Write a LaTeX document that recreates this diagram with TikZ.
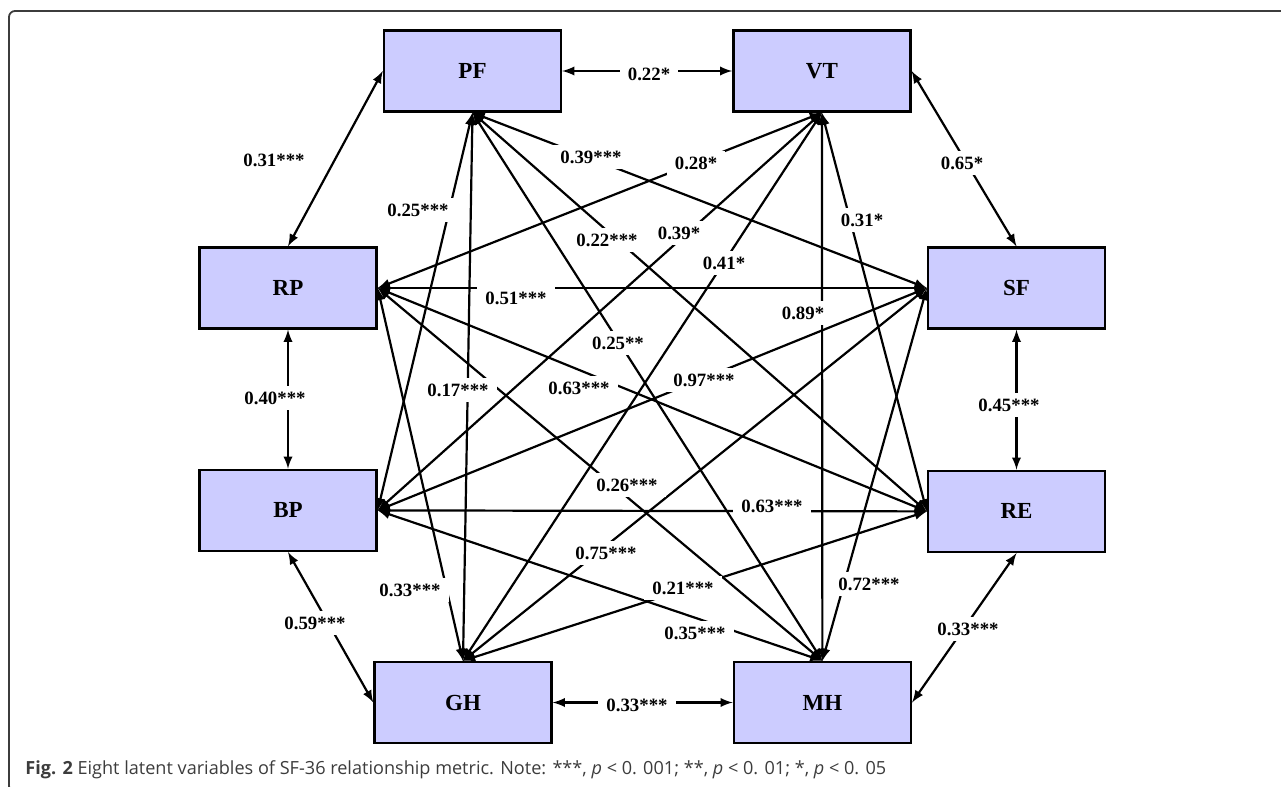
\documentclass[tikz,border=0pt]{standalone}
\usepackage{fontspec}
\setmainfont{Liberation Serif}
\newfontfamily\capfont{Open Sans}
\usetikzlibrary{positioning}
\definecolor{boxfill}{RGB}{204,204,255}
\definecolor{framegray}{RGB}{60,60,60}
\definecolor{capgray}{RGB}{60,60,60}

\begin{document}
\begin{tikzpicture}
[x=0.5pt,y=-0.5pt,>=latex,
 var/.style={draw,line width=1.2pt,fill=boxfill,minimum width=88.5pt,minimum height=40.5pt,
   font=\fontsize{11.5}{13}\selectfont\bfseries},
 lbl/.style={fill=white,inner xsep=4pt,inner ysep=3pt,font=\fontsize{9.4}{11}\selectfont\bfseries},
 link/.style={<->,line width=1.1pt}]
\useasboundingbox (0,0) rectangle (1281,787);
% frame round the figure
\draw[framegray,line width=0.9pt,rounded corners=3pt] (1300,11) -- (9,11) -- (9,792) -- (40,792);
% the eight scales
\node[var] (pf) at (472.5,71) {PF};
\node[var,right=85pt of pf] (vt) {VT};
\node[var] (rp) at (288,288) {RP};
\node[var,below=69.5pt of rp] (bp) {BP};
\node[var] (sf) at (1016.5,288) {SF};
\node[var,below=70pt of sf] (re) {RE};
\node[var] (gh) at (463,702.5) {GH};
\node[var,right=90pt of gh] (mh) {MH};
% neighbours on the ring
\path[link] (pf.east) edge (vt.west)
 (vt.east) edge (sf.north)
 (sf.south) edge (re.north)
 (re.south) edge (mh.east)
 (mh.west) edge (gh.east)
 (gh.west) edge (bp.south)
 (bp.north) edge (rp.south)
 (rp.north) edge (pf.west);
% cross links
\path[link] (pf.south) edge (sf.west)
 (pf.south) edge (re.west)
 (pf.south) edge (mh.north)
 (pf.south) edge (gh.north)
 (pf.south) edge (bp.east)
 (vt.south) edge (rp.east)
 (vt.south) edge (bp.east)
 (vt.south) edge (gh.north)
 (vt.south) edge (mh.north)
 (vt.south) edge (re.west)
 (rp.east) edge (sf.west)
 (rp.east) edge (re.west)
 (rp.east) edge (mh.north)
 (rp.east) edge (gh.north)
 (sf.west) edge (bp.east)
 (sf.west) edge (gh.north)
 (sf.west) edge (mh.north)
 (bp.east) edge (re.west)
 (bp.east) edge (mh.north)
 (re.west) edge (gh.north);
% coefficients
\node[lbl] (l-pfvt) at (649,74) {0.22*};
\node[lbl] (l-vtsf) at (962,163) {0.65*};
\node[lbl] (l-sfre) at (1009,405) {0.45***};
\node[lbl] (l-remh) at (968,629) {0.33***};
\node[lbl] (l-mhgh) at (637,705) {0.33***};
\node[lbl] (l-ghbp) at (315,623) {0.59***};
\node[lbl] (l-bprp) at (275,398) {0.40***};
\node[lbl] (l-rppf) at (274,160) {0.31***};
\node[lbl] (l-pfsf) at (591,157) {0.39***};
\node[lbl] (l-vtrp) at (696,163) {0.28*};
\node[lbl] (l-pfbp) at (418,210) {0.25***};
\node[lbl] (l-pfre) at (607,240) {0.22***};
\node[lbl] (l-vtbp) at (679,233) {0.39*};
\node[lbl] (l-vtgh) at (724,263) {0.41*};
\node[lbl] (l-vtre) at (862,220) {0.31*};
\node[lbl] (l-rpsf) at (516,298) {0.51***};
\node[lbl] (l-vtmh) at (803,313) {0.89*};
\node[lbl] (l-pfmh) at (618,343) {0.25**};
\node[lbl] (l-pfgh) at (458,390) {0.17***};
\node[lbl] (l-rpre) at (579,388) {0.63***};
\node[lbl] (l-sfbp) at (704,380) {0.97***};
\node[lbl] (l-rpmh) at (627,485) {0.26***};
\node[lbl] (l-bpre) at (772,506) {0.63***};
\node[lbl] (l-sfgh) at (606,553) {0.75***};
\node[lbl] (l-rpgh) at (410,590) {0.33***};
\node[lbl] (l-regh) at (683,588) {0.21***};
\node[lbl] (l-bpmh) at (695,633) {0.35***};
\node[lbl] (l-sfmh) at (869,584) {0.72***};
% caption
\node[anchor=base west,inner sep=0pt,text=capgray,font=\capfont\fontsize{9.05}{11}\selectfont] (cap) at (25,774)
 {\textbf{Fig. 2} Eight latent variables of SF-36 relationship metric. Note: ***, \textit{p} < 0. 001; **, \textit{p} < 0. 01; *, \textit{p} < 0. 05};
\end{tikzpicture}
\end{document}
